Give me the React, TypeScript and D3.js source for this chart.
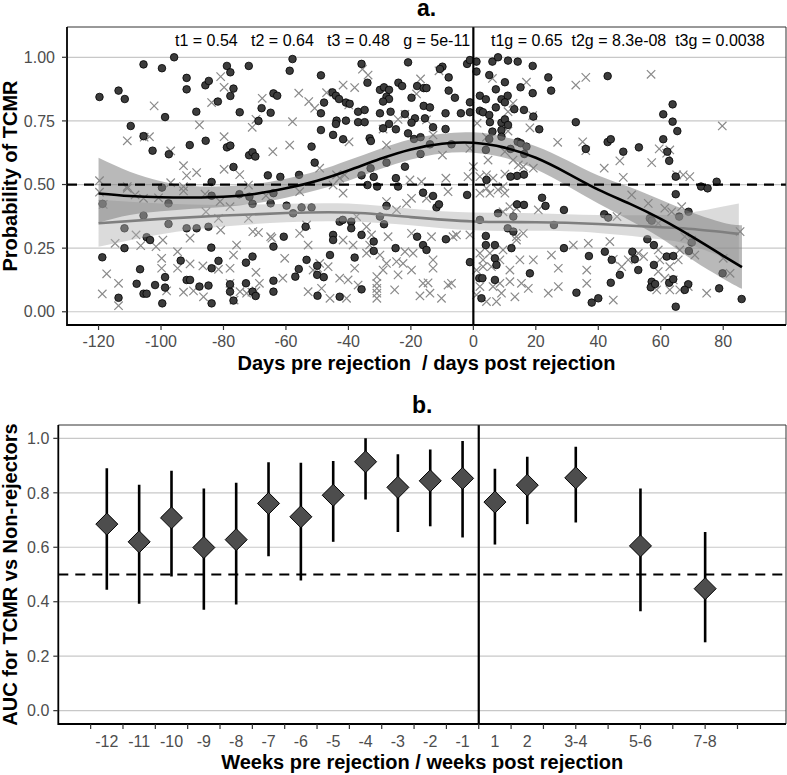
import React from "react";
import * as d3 from "d3";

// ---------- Panel a data ----------
const CIRCLES: [number, number][] = [
  [-95.8,1.0],[-105.6,0.972],[-99.7,0.957],[-91.8,0.919],[-91.8,0.874],[-85.8,0.89],[-84.7,0.907],[-78.9,0.966],[-77.8,0.941],[-71.9,0.966],[-76.8,0.877],[-77.8,0.848],[-81.8,0.826],[-119.7,0.844],[-113.6,0.869],[-111.6,0.836],[-88.7,0.786],[-98.7,0.765],[-74.8,0.784],[-67.8,0.80],[-64.9,0.782],[-64,0.858],[-68.8,0.75],[-109.7,0.73],[-105.6,0.69],[-102.7,0.633],[-97.5,0.619],[-90.8,0.655],[-85.7,0.672],[-78.9,0.646],[-77.8,0.653],[-71.8,0.615],[-70.7,0.627],[-69.8,0.61],[-76.8,0.569],[-65.8,0.536],[-83.8,0.51],[-99.7,0.488],
  [-57.9,0.993],[-58.8,0.947],[-48.8,0.929],[-35.8,0.974],[-20.9,0.98],[-9.9,0.963],[-10.7,0.954],[-2,0.974],[-1.1,0.989],[-7.9,0.921],[-33.9,0.9],[-24,0.9],[-22.8,0.887],[-18,0.887],[-15.9,0.879],[-15,0.879],[-7.9,0.869],[-5.9,0.841],[-1.1,0.823],[-62.8,0.849],[-45.1,0.862],[-44,0.849],[-43,0.836],[-40.8,0.822],[-39.6,0.817],[-47.8,0.822],[-48.8,0.78],[-29.9,0.872],[-28.6,0.882],[-27,0.872],[-27.8,0.845],[-27,0.836],[-28.9,0.826],[-19.8,0.841],[-15.9,0.809],[-13.9,0.803],[-36.9,0.786],[-34.8,0.793],[-29.9,0.78],[-26.5,0.786],[-21.9,0.777],[-18.7,0.76],[-15.5,0.76],[-8.9,0.78],[-4,0.78],[-1.1,0.784],[-43.8,0.751],[-44,0.738],[-40.8,0.751],[-36.9,0.745],[-34.8,0.745],[-27,0.738],[-28.9,0.721],[-24.8,0.717],[-19.8,0.743],[-12.9,0.725],[-8.9,0.718],[-48.8,0.714],[-44.9,0.695],[-41.7,0.678],[-33.2,0.682],[-32.8,0.671],[-20.9,0.701],[-19,0.679],[-16.9,0.686],[-7,0.658],[-13.9,0.658],[-16.9,0.62],[-51.8,0.649],[-50.8,0.586],[-27.8,0.586],[-21.9,0.57],[-32.9,0.564],[-35.8,0.536],[-31.9,0.53],[-61.8,0.53],[-55.8,0.538],[-24.8,0.525],[-33.9,0.498],[-30.8,0.492],[-24.1,0.492],
  [1,0.983],[6.1,0.983],[7.9,1.0],[11.1,0.987],[14.2,0.983],[19,0.966],[1,0.944],[5.1,0.93],[10.1,0.902],[7.2,0.874],[15.1,0.882],[19,0.859],[24,0.921],[24.9,0.869],[43,0.926],[2.1,0.849],[4,0.835],[9,0.835],[11,0.849],[10.1,0.823],[7.2,0.803],[2.1,0.79],[3.1,0.784],[5.1,0.773],[13.1,0.796],[16.2,0.793],[5.3,0.745],[9,0.743],[10.1,0.756],[11.1,0.734],[19.2,0.767],[21.1,0.717],[6.1,0.708],[9,0.714],[9,0.688],[5.1,0.679],[14.2,0.668],[15.2,0.662],[17,0.649],[11.9,0.64],[4,0.636],[16.3,0.62],[32.8,0.745],[43,0.667],[44,0.678],[48,0.629],[36,0.64],[53,0.646],[60.8,0.776],[63.8,0.815],[63.8,0.747],[65.3,0.71],[60.8,0.678],[62.1,0.629],[62.7,0.593],
  [-118.7,0.424],[-97.6,0.426],[-105.6,0.378],[-97.6,0.345],[-111.7,0.328],[-104.6,0.293],[-103.5,0.282],[-91.8,0.328],[-88.6,0.328],[-84.8,0.334],[-111.7,0.25],[-118.8,0.214],[-83.9,0.252],[-81.6,0.2],[-93.7,0.201],[-83.8,0.171],[-70.7,0.217],[-72.8,0.193],[-106.7,0.167],[-98.7,0.136],[-107.8,0.11],[-101.9,0.105],[-98.7,0.095],[-91.8,0.125],[-90.7,0.125],[-87.7,0.099],[-84.8,0.103],[-105.6,0.071],[-104.6,0.071],[-113.6,0.055],[-99.6,0.033],[-83.8,0.033],[-77.9,0.079],[-77.9,0.108],[-76.8,0.044],[-72.8,0.112],[-70.7,0.079],[-69.7,0.062],[-64,0.079],[-64,0.122],[-64,0.256],[-74.9,0.462],[-71.7,0.452],[-70.7,0.424],[-64.9,0.426],[-64,0.466],[-83.8,0.456],
  [-60.7,0.295],[-59.8,0.417],[-57,0.138],[-55.9,0.168],[-57.7,0.387],[-55,0.41],[-51.8,0.41],[-53.4,0.204],[-53.7,0.334],[-50,0.145],[-50,0.181],[-47.9,0.136],[-49.9,0.063],[-45.9,0.223],[-44.9,0.302],[-44.9,0.282],[-42.8,0.059],[-42.8,0.354],[-41.8,0.361],[-39.1,0.354],[-39.1,0.328],[-38,0.213],[-35.8,0.302],[-35.8,0.088],[-31.9,0.276],[-31.9,0.239],[-29.9,0.374],[-27.8,0.416],[-28.6,0.344],[-24.9,0.25],
  [-16.1,0.468],[-12.9,0.455],[-11.8,0.41],[-11,0.422],[-18,0.295],[-16.1,0.262],[-15,0.243],[-8.8,0.285],[-2,0.459],[-1.1,0.195],[4.2,0.518],[2.1,0.361],[4,0.298],[4,0.262],[7.9,0.387],[6.9,0.262],[6.9,0.21],[7.4,0.184],[6.9,0.125],[1.9,0.132],[2.9,0.132],[2.6,0.053],[11,0.328],[12.8,0.315],[12.2,0.25],[12.8,0.374],[14,0.422],[16.2,0.42],[14,0.534],[16.2,0.539],[11.9,0.531],[18.1,0.151],[22,0.448],[23.1,0.416],[25.8,0.341],[29,0.4],[29,0.25],[33,0.075],[37,0.219],[37.9,0.036],[40,0.053],[41.9,0.383],[43.2,0.37],[42.1,0.236],[44.3,0.204],[44,0.114],[46.9,0.145],[50.9,0.236],[51.7,0.206],[52.8,0.164],[55.7,0.285],[56.5,0.367],[57.1,0.358],[57.8,0.262],[57.8,0.184],[57.1,0.118],[56.8,0.096],[58.2,0.109],[61.9,0.217],[64,0.219],[62.7,0.114],[64,0.128],[64.8,0.02],[64.8,0.462],[64.8,0.531],[65.9,0.374],[68.9,0.393],[69.9,0.272],[69,0.239],[68.8,0.108],[67.7,0.086],[72.9,0.492],[75,0.485],[77.9,0.511],[79.8,0.151],[78.7,0.092],[85.9,0.05]
];

const CROSSES: [number, number][] = [
  [-80.9,0.924],[-79.8,0.882],[-83.8,0.822],[-67.6,0.839],[-102.2,0.809],[-87.7,0.734],[-70.8,0.725],[-69.6,0.756],[-110.8,0.672],[-105.4,0.686],[-103.7,0.688],[-79.8,0.688],[-96.9,0.632],[-64.2,0.629],[-92.8,0.574],[-91.8,0.535],[-88.6,0.547],[-79.8,0.56],[-74.8,0.539],[-119.7,0.515],[-110.8,0.492],[-96.9,0.507],[-92.8,0.492],[-72,0.498],
  [-35.5,0.953],[-33.7,0.93],[-11,0.947],[-16.9,0.915],[-55.9,0.859],[-52.7,0.826],[-50.8,0.8],[-47,0.861],[-41.7,0.891],[-38,0.881],[-39.9,0.813],[-18.2,0.856],[-24.1,0.756],[-21.9,0.776],[-15,0.754],[-57.9,0.747],[-58.8,0.655],[-39.8,0.668],[-28.9,0.718],[-27.8,0.655],[-12.9,0.695],[-9.9,0.616],[-1.1,0.642],[0,0.57],[-49.2,0.564],[-43.8,0.538],[-42.8,0.525],[-8.8,0.525],[-16.6,0.511],
  [6.1,0.917],[17,0.902],[32.8,0.891],[36,0.921],[56.9,0.933],[12.7,0.819],[11.1,0.786],[19,0.771],[1.2,0.741],[18.1,0.723],[11.1,0.71],[4.2,0.686],[27,0.666],[35,0.668],[36,0.633],[46.9,0.593],[41.9,0.564],[57.1,0.586],[59.5,0.64],[62.9,0.636],[61.9,0.623],[48,0.528],[10.1,0.629],[12.7,0.596],[14.4,0.577],[19.2,0.564],[16,0.57],[4.7,0.596],[10.1,0.541],[4.2,0.538],[9.5,0.492],[79.7,0.73],
  [-119.7,0.47],[-118.5,0.422],[-110.8,0.485],[-108.3,0.459],[-105.6,0.446],[-100.8,0.448],[-92.8,0.475],[-85.9,0.462],[-81.1,0.433],[-77.9,0.413],[-85.6,0.393],[-81.6,0.367],[-72,0.367],[-66.4,0.456],[-108,0.302],[-106.5,0.26],[-101.6,0.256],[-99.4,0.282],[-114.7,0.269],[-90.7,0.289],[-80.9,0.321],[-75.8,0.262],[-70.6,0.315],[-68.8,0.311],[-64.9,0.295],[-94.7,0.236],[-99.8,0.21],[-99.8,0.171],[-90.7,0.188],[-94.7,0.171],[-86.6,0.18],[-81.6,0.167],[-77.9,0.171],[-76.8,0.223],[-117.4,0.149],[-113.6,0.112],[-118.8,0.07],[-113.6,0.024],[-98.2,0.082],[-92.8,0.077],[-89.6,0.082],[-86.4,0.059],[-77.9,0.112],[-76.6,0.046],[-74.7,0.079],[-72.6,0.073],[-69.6,0.155],[-69.6,0.082],[-68.5,0.112],[-64.5,0.289],[-70.9,0.077],
  [-60.4,0.21],[-61,0.132],[-55.6,0.308],[-53.4,0.341],[-55.6,0.472],[-52.9,0.262],[-49.2,0.19],[-51.3,0.164],[-46.5,0.177],[-49.8,0.171],[-52.9,0.079],[-48.6,0.092],[-45.9,0.053],[-41.7,0.282],[-42.8,0.132],[-40.1,0.125],[-40.6,0.053],[-38,0.171],[-38.5,0.262],[-36.9,0.105],[-34.2,0.23],[-33.2,0.262],[-32.6,0.302],[-30.9,0.138],[-30.9,0.112],[-30.9,0.092],[-30.9,0.073],[-30.9,0.053],[-28.9,0.164],[-29.9,0.223],[-27.8,0.19],[-27.3,0.295],[-25.2,0.086],[-24.6,0.197],[-27.8,0.433],[-24.6,0.4],[-41.7,0.466],[-44.9,0.498],[-41.2,0.538],[-37.4,0.374],[-34.2,0.334],
  [-20.3,0.518],[-19.8,0.446],[-21.4,0.426],[-15,0.446],[-8.1,0.472],[-6.5,0.295],[-19.8,0.308],[-13.4,0.295],[-21.9,0.236],[-19.3,0.23],[-22.5,0.19],[-19.8,0.164],[-24.1,0.145],[-12.9,0.204],[-12.9,0.171],[-16.1,0.112],[-14.5,0.114],[-13.9,0.073],[-17.1,0.062],[-10.2,0.053],[-8.1,0.105],[-7,0.112],[-5.4,0.302],[-1.1,0.302],[-1.7,0.531],[4.2,0.485],[2.1,0.466],[5.3,0.466],[7.9,0.479],[10.1,0.466],[2.1,0.531],[6.3,0.525],[11.7,0.413],[9.5,0.393],[13.8,0.407],[13.8,0.282],[16,0.308],[13.8,0.295],[2.1,0.23],[3.1,0.204],[3.1,0.177],[1,0.164],[5.3,0.23],[9.5,0.243],[5.8,0.177],[8.5,0.204],[11.7,0.164],[14.9,0.204],[19.2,0.204],[15.4,0.112],[17.6,0.092],[13.3,0.059],[8.5,0.112],[6.3,0.099],[11.7,0.118],[2.1,0.099],[4.2,0.04],[1,0.066],[9,0.073],[7.4,0.04],[25,0.223],[27.2,0.171],[24,0.073],[27.2,0.099],[32,0.262],[36.8,0.269],[36.3,0.164],[36.3,0.112],[20.8,0.4],[43.7,0.276],[44.8,0.206],[46,0.374],[47.5,0.177],[49.6,0.204],[44.8,0.046],[50.7,0.459],[56,0.426],[59.2,0.348],[61.3,0.407],[63.5,0.393],[66.7,0.413],[52.8,0.23],[54.5,0.217],[59.2,0.243],[59.7,0.204],[59.2,0.158],[61.3,0.132],[64,0.125],[62.9,0.177],[65.6,0.204],[66.1,0.243],[67.7,0.295],[69.9,0.282],[70.9,0.223],[58.7,0.086],[62.9,0.086],[66.1,0.086],[68.8,0.099],[74.7,0.073],[80,0.21],[82.2,0.151],[85.4,0.315],[65.1,0.538],[67.2,0.538],[69.3,0.531]
];

// smooth (loess) curves
const BLK_DAYS = [-120,-110,-100,-90,-80,-70,-60,-50,-40,-30,-20,-10,0,10,20,30,40,50,60,70,80,86];
const BLK_FIT = [0.465,0.455,0.45,0.449,0.452,0.463,0.485,0.515,0.555,0.6,0.638,0.66,0.664,0.645,0.605,0.545,0.48,0.425,0.365,0.295,0.22,0.175];
const BLK_LO = [0.35,0.38,0.395,0.405,0.412,0.425,0.448,0.478,0.515,0.56,0.598,0.622,0.625,0.605,0.56,0.495,0.425,0.36,0.29,0.205,0.13,0.09];
const BLK_HI = [0.605,0.55,0.513,0.494,0.493,0.502,0.523,0.553,0.595,0.64,0.678,0.7,0.705,0.687,0.65,0.595,0.535,0.49,0.44,0.39,0.35,0.34];
const GRY_DAYS = [-120,-100,-80,-60,-40,-20,0,20,40,60,70,85];
const GRY_FIT = [0.348,0.365,0.378,0.388,0.39,0.372,0.355,0.352,0.345,0.332,0.325,0.306];
const GRY_LO = [0.255,0.305,0.335,0.352,0.355,0.34,0.32,0.318,0.31,0.285,0.26,0.19];
const GRY_HI = [0.44,0.425,0.42,0.424,0.425,0.405,0.39,0.387,0.38,0.38,0.39,0.425];

const DAY_TICKS = [-120,-100,-80,-60,-40,-20,0,20,40,60,80];
const PROB_TICKS = [0, 0.25, 0.5, 0.75, 1.0];
const ANNOT_LEFT = "t1 = 0.54   t2 = 0.64   t3 = 0.48   g = 5e-11";
const ANNOT_RIGHT = "t1g = 0.65  t2g = 8.3e-08  t3g = 0.0038";

// ---------- Panel b data ----------
const WEEK_LABELS = ["-12","-11","-10","-9","-8","-7","-6","-5","-4","-3","-2","-1","1","2","3-4","5-6","7-8"];
const WEEK_POS = [-12,-11,-10,-9,-8,-7,-6,-5,-4,-3,-2,-1,0,1,2.5,4.5,6.5];
const AUC = [0.685,0.62,0.708,0.599,0.628,0.761,0.712,0.791,0.914,0.82,0.844,0.853,0.766,0.828,0.855,0.605,0.448];
const AUC_LO = [0.444,0.393,0.493,0.371,0.39,0.567,0.478,0.62,0.775,0.656,0.677,0.636,0.61,0.685,0.691,0.365,0.251];
const AUC_HI = [0.89,0.83,0.881,0.816,0.837,0.912,0.91,0.917,1.0,0.942,0.959,0.99,0.888,0.932,0.969,0.816,0.656];
const AUC_TICKS = [0, 0.2, 0.4, 0.6, 0.8, 1.0];

const FONT = "'Liberation Sans', Arial, Helvetica, sans-serif";

export default function App() {
  // panel a geometry
  const aL = 67, aR = 786, aT = 27, aB = 325;
  const xa = d3.scaleLinear().domain([-130.1, 100.1]).range([aL, aR]);
  const ya = d3.scaleLinear().domain([-0.052, 1.119]).range([aB, aT]);

  // panel b geometry
  const bL = 58.3, bR = 786, bT = 425, bB = 724;
  const xb = d3.scaleLinear().domain([-13.5, 9.0]).range([bL, bR]);
  const yb = d3.scaleLinear().domain([-0.049, 1.049]).range([bB, bT]);

  const lineA = d3.line<[number, number]>().x(d => xa(d[0])).y(d => ya(d[1])).curve(d3.curveNatural);
  const areaA = d3.area<[number, number, number]>().x(d => xa(d[0])).y0(d => ya(d[1])).y1(d => ya(d[2])).curve(d3.curveNatural);

  const blkLine = lineA(BLK_DAYS.map((d, i) => [d, BLK_FIT[i]] as [number, number])) || "";
  const gryLine = lineA(GRY_DAYS.map((d, i) => [d, GRY_FIT[i]] as [number, number])) || "";
  const blkArea = areaA(BLK_DAYS.map((d, i) => [d, BLK_LO[i], BLK_HI[i]] as [number, number, number])) || "";
  const gryArea = areaA(GRY_DAYS.map((d, i) => [d, GRY_LO[i], GRY_HI[i]] as [number, number, number])) || "";

  const bTicks = d3.range(-12.5, 8, 1);
  const cs = 4.2; // cross half-size
  const dm = 11; // diamond half-diagonal

  return (
    <svg width={787} height={775} style={{ position: "absolute", left: 0, top: 0, background: "#fff" }} fontFamily={FONT}>
      <rect x={0} y={0} width={787} height={775} fill="#fff" />
      {/* ============ Panel a ============ */}
      <text x={(aL + aR) / 2} y={16} textAnchor="middle" fontSize={23} fontWeight="bold" fill="#000">a.</text>
      <defs>
        <clipPath id="clipA"><rect x={aL} y={aT} width={aR - aL} height={aB - aT} /></clipPath>
        <clipPath id="clipB"><rect x={bL} y={bT} width={bR - bL} height={bB - bT} /></clipPath>
      </defs>
      {PROB_TICKS.map(t => (
        <line key={"ga" + t} x1={aL} x2={aR} y1={ya(t)} y2={ya(t)} stroke="#c8c8c8" strokeWidth={1.2} />
      ))}
      <g clipPath="url(#clipA)">
        {CROSSES.map((p, i) => {
          const cx = xa(p[0]), cy = ya(p[1]);
          return (
            <path key={"x" + i} d={`M${cx - cs},${cy - cs}L${cx + cs},${cy + cs}M${cx - cs},${cy + cs}L${cx + cs},${cy - cs}`} stroke="#8a8a8a" strokeWidth={1.2} fill="none" />
          );
        })}
        {CIRCLES.map((p, i) => (
          <circle key={"c" + i} cx={xa(p[0])} cy={ya(p[1])} r={3.8} fill="#3c3c3c" stroke="#000" strokeWidth={0.8} />
        ))}
        <path d={gryArea} fill="#b0b0b0" fillOpacity={0.45} stroke="none" />
        <path d={blkArea} fill="#808080" fillOpacity={0.55} stroke="none" />
        <path d={gryLine} fill="none" stroke="#7f7f7f" strokeWidth={2.6} />
        <path d={blkLine} fill="none" stroke="#000" strokeWidth={2.6} />
        <line x1={aL} x2={aR} y1={ya(0.5)} y2={ya(0.5)} stroke="#000" strokeWidth={2.2} strokeDasharray="10,7" />
        <line x1={xa(0)} x2={xa(0)} y1={aT} y2={aB} stroke="#000" strokeWidth={2.2} />
      </g>
      <text x={175} y={45.5} fontSize={16} fill="#000" style={{ whiteSpace: "pre" }}>{ANNOT_LEFT}</text>
      <text x={491} y={45.5} fontSize={16} fill="#000" style={{ whiteSpace: "pre" }}>{ANNOT_RIGHT}</text>
      {/* borders */}
      <line x1={aL} x2={aR} y1={aT} y2={aT} stroke="#333" strokeWidth={1} />
      <line x1={aR} x2={aR} y1={aT} y2={aB} stroke="#333" strokeWidth={1} />
      <line x1={aL} x2={aL} y1={aT} y2={aB + 0.9} stroke="#000" strokeWidth={1.8} />
      <line x1={aL} x2={aR} y1={aB} y2={aB} stroke="#000" strokeWidth={1.8} />
      {/* y axis a */}
      {PROB_TICKS.map(t => (
        <g key={"ya" + t}>
          <line x1={aL - 5} x2={aL} y1={ya(t)} y2={ya(t)} stroke="#333" strokeWidth={1.2} />
          <text x={aL - 12} y={ya(t) + 5.7} textAnchor="end" fontSize={16} fill="#4d4d4d">{t.toFixed(2)}</text>
        </g>
      ))}
      {/* x axis a */}
      {DAY_TICKS.map(t => (
        <g key={"xa" + t}>
          <line x1={xa(t)} x2={xa(t)} y1={aB} y2={aB + 5} stroke="#333" strokeWidth={1.2} />
          <text x={xa(t)} y={347} textAnchor="middle" fontSize={16} fill="#4d4d4d">{String(t)}</text>
        </g>
      ))}
      <text x={(aL + aR) / 2} y={370} textAnchor="middle" fontSize={20} fontWeight="bold" fill="#000" style={{ whiteSpace: "pre" }}>{"Days pre rejection  / days post rejection"}</text>
      <text transform={`translate(17,${(aT + aB) / 2}) rotate(-90)`} textAnchor="middle" fontSize={20} fontWeight="bold" fill="#000">Probability of TCMR</text>

      {/* ============ Panel b ============ */}
      <text x={(bL + bR) / 2} y={413} textAnchor="middle" fontSize={23} fontWeight="bold" fill="#000">b.</text>
      {AUC_TICKS.map(t => (
        <line key={"gb" + t} x1={bL} x2={bR} y1={yb(t)} y2={yb(t)} stroke="#c8c8c8" strokeWidth={1.2} />
      ))}
      <g clipPath="url(#clipB)">
        <line x1={bL} x2={bR} y1={yb(0.5)} y2={yb(0.5)} stroke="#000" strokeWidth={2.2} strokeDasharray="10,7" />
        <line x1={xb(-0.5)} x2={xb(-0.5)} y1={bT} y2={bB} stroke="#000" strokeWidth={2.2} />
        {WEEK_POS.map((p, i) => (
          <line key={"eb" + i} x1={xb(p)} x2={xb(p)} y1={yb(AUC_LO[i])} y2={yb(AUC_HI[i])} stroke="#000" strokeWidth={2.6} />
        ))}
        {WEEK_POS.map((p, i) => {
          const cx = xb(p), cy = yb(AUC[i]);
          return <path key={"dm" + i} d={`M${cx},${cy - dm}L${cx + dm},${cy}L${cx},${cy + dm}L${cx - dm},${cy}Z`} fill="#4d4d4d" stroke="#000" strokeWidth={1} />;
        })}
      </g>
      <line x1={bL} x2={bR} y1={bT} y2={bT} stroke="#333" strokeWidth={1} />
      <line x1={bR} x2={bR} y1={bT} y2={bB} stroke="#333" strokeWidth={1} />
      <line x1={bL} x2={bL} y1={bT} y2={bB + 0.9} stroke="#000" strokeWidth={1.8} />
      <line x1={bL} x2={bR} y1={bB} y2={bB} stroke="#000" strokeWidth={1.8} />
      {AUC_TICKS.map(t => (
        <g key={"yb" + t}>
          <line x1={bL - 5} x2={bL} y1={yb(t)} y2={yb(t)} stroke="#333" strokeWidth={1.2} />
          <text x={bL - 9} y={yb(t) + 5.7} textAnchor="end" fontSize={16} fill="#4d4d4d">{t.toFixed(1)}</text>
        </g>
      ))}
      {bTicks.map(t => (
        <line key={"tb" + t} x1={xb(t)} x2={xb(t)} y1={bB} y2={bB + 5} stroke="#333" strokeWidth={1.2} />
      ))}
      {WEEK_POS.map((p, i) => (
        <text key={"lb" + i} x={xb(p)} y={747} textAnchor="middle" fontSize={16} fill="#4d4d4d">{WEEK_LABELS[i]}</text>
      ))}
      <text x={(bL + bR) / 2} y={769} textAnchor="middle" fontSize={20} fontWeight="bold" fill="#000">Weeks pre rejection / weeks post rejection</text>
      <text transform={`translate(17,${(bT + bB) / 2}) rotate(-90)`} textAnchor="middle" fontSize={20} fontWeight="bold" fill="#000">AUC for TCMR vs Non-rejectors</text>
    </svg>
  );
}
